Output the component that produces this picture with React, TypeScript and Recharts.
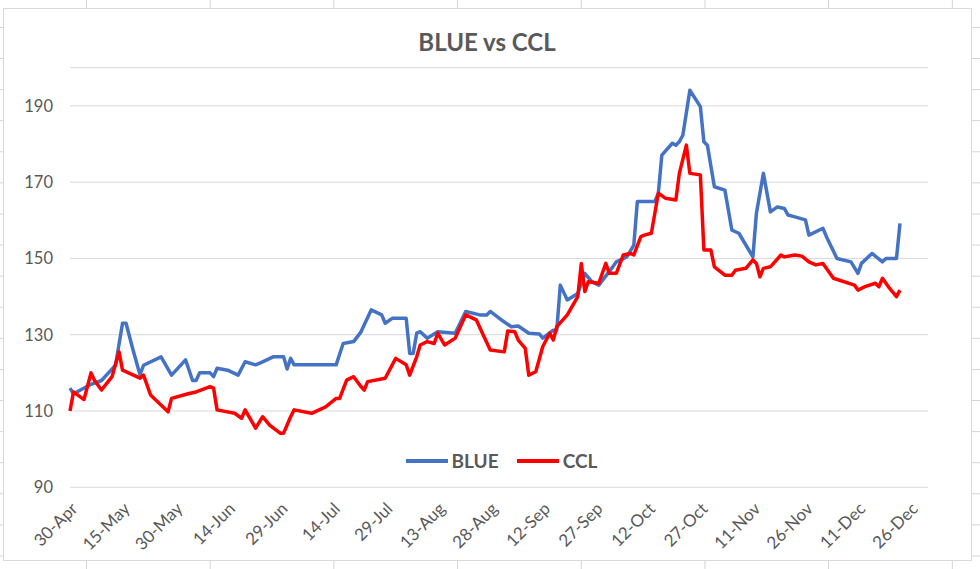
import { LineChart, Line, XAxis, YAxis, CartesianGrid, Legend } from 'recharts'

// days counted from 30-Apr
const TICK_DAYS = [0, 15, 30, 45, 60, 75, 90, 105, 120, 135, 150, 165, 180, 195, 210, 225, 240]
const TICK_LABELS = [
  '30-Apr', '15-May', '30-May', '14-Jun', '29-Jun', '14-Jul', '29-Jul', '13-Aug', '28-Aug',
  '12-Sep', '27-Sep', '12-Oct', '27-Oct', '11-Nov', '26-Nov', '11-Dec', '26-Dec',
]
const Y_TICKS = [90, 110, 130, 150, 170, 190]

const BLUE_DAYS = [
  0, 1, 3, 6, 9, 11, 13, 15, 16, 18, 20, 21, 26, 29, 33, 35, 36, 37, 40, 41, 42, 45, 48, 50, 53, 55,
  58, 61, 62, 63, 64, 76, 78, 81, 83, 86, 89, 90, 92, 96, 97, 98, 99, 100, 102, 105, 110, 113, 117,
  119, 120, 123, 126, 128, 131, 134, 135, 138, 139, 140, 142, 145, 147, 149, 151, 155, 156, 159, 161,
  162, 164, 167, 168, 169, 172, 173, 174, 175, 177, 180, 181, 182, 184, 187, 189, 191, 195, 196, 198,
  200, 202, 204, 205, 207, 210, 211, 215, 216, 219, 223, 225, 226, 229, 232, 233, 236, 237,
]
const BLUE_VALUES = [
  116, 114.5, 115.5, 117, 118, 120, 122, 133, 133, 126, 119.5, 122, 124.2, 119.4, 123.4, 118, 118, 120,
  120, 119, 121.2, 120.7, 119.4, 122.9, 122.1, 122.9, 124.2, 124.2, 121, 123.8, 122.1, 122.1, 127.7,
  128.2, 130.6, 136.5, 135.2, 133, 134.3, 134.3, 125.1, 125.1, 130.4, 130.8, 129.1, 130.8, 130.4,
  136.1, 135.2, 135.2, 136.1, 134, 132.1, 132.3, 130.4, 130.2, 129.1, 131.2, 131.2, 143, 139.1, 140.8,
  146.1, 143.9, 143, 147.8, 149.1, 150.4, 153.5, 164.9, 164.9, 164.9, 167.1, 177.1, 180.2, 179.7,
  180.6, 182.3, 194.1, 189.8, 180.6, 179.7, 168.8, 167.9, 157.4, 156.6, 150.4, 161.8, 172.3, 162.2,
  163.5, 163.1, 161.4, 160.9, 160.1, 156.1, 157.9, 155.7, 150, 149.1, 146.1, 148.7, 151.3, 149.1, 150,
  150, 159.2,
]

const CCL_DAYS = [
  0, 1, 4, 6, 7, 9, 12, 14, 15, 20, 21, 23, 28, 29, 34, 36, 40, 41, 42, 47, 49, 50, 53, 55, 57, 60,
  61, 63, 64, 69, 73, 76, 77, 79, 81, 83, 84, 85, 90, 93, 96, 97, 99, 100, 102, 104, 105, 107, 110,
  113, 116, 118, 120, 124, 125, 127, 128, 130, 131, 133, 135, 137, 138, 139, 142, 145, 146, 147, 148,
  151, 153, 154, 156, 158, 160, 161, 163, 164, 166, 168, 170, 173, 174, 176, 177, 180, 181, 183, 184,
  187, 189, 190, 193, 195, 196, 197, 198, 200, 203, 204, 207, 209, 211, 213, 215, 218, 224, 225, 227,
  230, 231, 232, 234, 236, 237,
]
const CCL_VALUES = [
  110, 115, 113, 120, 118, 115.5, 119, 125.5, 120.7, 118.6, 119.4, 114.2, 109.8, 113.3, 114.6, 115,
  116.4, 116, 110.3, 109.4, 108.1, 110.3, 105.5, 108.5, 106.3, 104.2, 104.2, 108.5, 110.3, 109.4, 111.1,
  113.3, 113.3, 118.1, 119, 116.5, 115.5, 117.7, 118.6, 123.8, 122.1, 119.4, 124.2, 127.3, 128.2, 127.7,
  130.4, 127.3, 129.1, 135.2, 133.9, 129.9, 126, 125.5, 131, 130.8, 128.6, 126.4, 119.4, 120.3, 126.9,
  130.4, 128.6, 132.1, 135.2, 140, 148.7, 141.3, 143.9, 143.5, 148.7, 146.1, 146.1, 150.9, 151.3, 150.9,
  155.7, 156.1, 156.6, 167.1, 165.8, 165.3, 172.3, 179.7, 172.3, 171.9, 152.2, 152.2, 147.8, 145.6,
  145.6, 146.9, 147.4, 149.6, 148.7, 145.2, 147.4, 147.8, 150.9, 150.4, 150.9, 150.6, 149.1, 148.3,
  148.7, 144.8, 143, 141.7, 142.6, 143.5, 142.6, 144.8, 142.2, 140, 141.7,
]

const blueData = BLUE_DAYS.map((day, i) => ({ day, value: BLUE_VALUES[i] }))
const cclData = CCL_DAYS.map((day, i) => ({ day, value: CCL_VALUES[i] }))

const FONT = 'Lato, "Open Sans", sans-serif'
const GREY_TEXT = '#595959'

const renderLegend = ({ payload }: any) => (
  <div style={{ display: 'flex', justifyContent: 'center', alignItems: 'center', paddingLeft: 23, fontFamily: FONT }}>
    {(payload || []).map((p: any, i: number) => (
      <div key={i} style={{ display: 'flex', alignItems: 'center', marginLeft: i ? 18 : 0 }}>
        <span style={{ display: 'inline-block', width: 42, height: 4, background: p.color, marginRight: 4 }} />
        <span style={{ fontSize: 19, fontWeight: 700, color: GREY_TEXT }}>{p.value}</span>
      </div>
    ))}
  </div>
)

export default function App() {
  return (
    <div
      style={{
        position: 'absolute',
        left: 0,
        top: 0,
        width: 980,
        height: 569,
        overflow: 'hidden',
        background: '#fff',
        backgroundImage:
          'linear-gradient(to right, #d4d4d4 1px, transparent 1px), linear-gradient(to bottom, #d4d4d4 1px, transparent 1px)',
        backgroundSize: '123.7px 100%, 100% 31.1px',
        backgroundPosition: '86px 0, 0 58px',
      }}
    >
      <div
        style={{
          position: 'absolute',
          left: 3,
          top: 8,
          width: 967,
          height: 551,
          background: '#fff',
          border: '1px solid #d9d9d9',
        }}
      />
      <div
        style={{
          position: 'absolute',
          left: 0,
          top: 27,
          width: 974,
          textAlign: 'center',
          fontFamily: FONT,
          fontWeight: 700,
          fontSize: 24,
          color: GREY_TEXT,
        }}
      >
        BLUE vs CCL
      </div>
      <div style={{ position: 'absolute', left: 0, top: 0 }}>
        <LineChart width={980} height={569} margin={{ top: 67.7, right: 52, left: 20, bottom: 11.7 }}>
          <CartesianGrid horizontal vertical={false} stroke="#d9d9d9" strokeWidth={1} />
          <XAxis
            type="number"
            dataKey="day"
            domain={[0, 245]}
            ticks={TICK_DAYS}
            tickFormatter={(d: number) => TICK_LABELS[TICK_DAYS.indexOf(d)]}
            interval={0}
            axisLine={false}
            tickLine={false}
            tickSize={0}
            tickMargin={14}
            angle={-45}
            textAnchor="end"
            height={70}
            tick={{ fontFamily: FONT, fontSize: 17, fill: GREY_TEXT }}
          />
          <YAxis
            type="number"
            domain={[90, 200]}
            ticks={Y_TICKS}
            interval={0}
            axisLine={false}
            tickLine={false}
            tickSize={0}
            tickMargin={17}
            width={50}
            tick={{ fontFamily: FONT, fontSize: 16.5, fill: GREY_TEXT }}
          />
          <Legend
            layout="horizontal"
            verticalAlign="middle"
            align="center"
            content={renderLegend}
            wrapperStyle={{ position: 'absolute', left: 0, top: 449, width: 980 }}
          />
          <Line
            data={blueData}
            dataKey="value"
            name="BLUE"
            type="linear"
            stroke="#4472C4"
            strokeWidth={3.5}
            strokeLinejoin="round"
            dot={false}
            isAnimationActive={false}
          />
          <Line
            data={cclData}
            dataKey="value"
            name="CCL"
            type="linear"
            stroke="#FF0000"
            strokeWidth={3.5}
            strokeLinejoin="round"
            dot={false}
            isAnimationActive={false}
          />
        </LineChart>
      </div>
    </div>
  )
}
